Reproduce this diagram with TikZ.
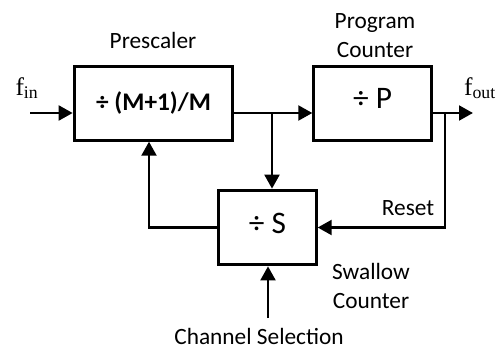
\documentclass[tikz,border=0pt]{standalone}
\usepackage{fontspec}
\setmainfont{Carlito}
\newfontfamily\timesfont{Liberation Serif}
\usetikzlibrary{calc,arrows.meta}

\newcommand{\lblfont}{\fontsize{17.5}{21.75}\selectfont}
\newcommand{\divfont}{\fontsize{23.5}{28}\selectfont}
\newcommand{\sigfont}{\timesfont\fontsize{19}{22}\selectfont}

\tikzset{
  blk/.style={draw, line width=2.2pt, inner sep=0pt},
  sig/.style={line width=2.2pt, -{Triangle[length=10.5pt,width=11pt]}},
}

\begin{document}
\begin{tikzpicture}[x=0.75pt,y=-0.75pt]
\useasboundingbox (0,0) rectangle (498,350);

% the three dividers
\node[blk, minimum width=119pt, minimum height=55pt, font=\fontsize{19}{22}\selectfont\bfseries] (pre) at (153.5,103.5) {÷ (M+1)/M};
\node[blk, minimum width=88pt, minimum height=55pt, font=\divfont, text depth=7pt] (pc) at (372.5,103.5) {÷ P};
\node[blk, minimum width=73pt, minimum height=56pt, font=\divfont, text depth=6pt] (sw) at (267.5,227.5) {÷ S};

% labels
\node[font=\lblfont] (prelbl) at (153,40) {Prescaler};
\node[font=\lblfont, align=center] (pclbl) at (375,36) {Program\\Counter};
\node[font=\lblfont, align=center] (swlbl) at (371,286) {Swallow\\Counter};
\node[font=\lblfont] (rstlbl) at (408,208) {Reset};
\node[font=\lblfont, inner sep=1pt] (chanlbl) at (259,336) {Channel Selection};
\node[font=\sigfont] (finlbl) at (27,88) {f\textsubscript{in}};
\node[font=\sigfont] (foutlbl) at (480,88) {f\textsubscript{out}};

\coordinate (in) at (30,113);
\coordinate (out) at (473,113);
\coordinate (tap) at (272,113);
\coordinate (rst) at (445,113);
\coordinate (fb) at (149,140);
\coordinate (chan) at (268,318);

% signal paths
\draw[sig] (in) -- (pre.west |- in);
\draw[sig] (pre.east |- tap) -- (pc.west |- tap);
\draw[sig] (tap) -- (tap |- sw.north);
\draw[sig] (pc.east |- out) -- (out);
\draw[sig] (rst) |- (sw.east);
\draw[sig] (sw.west) -| (fb |- pre.south);
\draw[sig] (chan) -- (chan |- sw.south);
\end{tikzpicture}
\end{document}
